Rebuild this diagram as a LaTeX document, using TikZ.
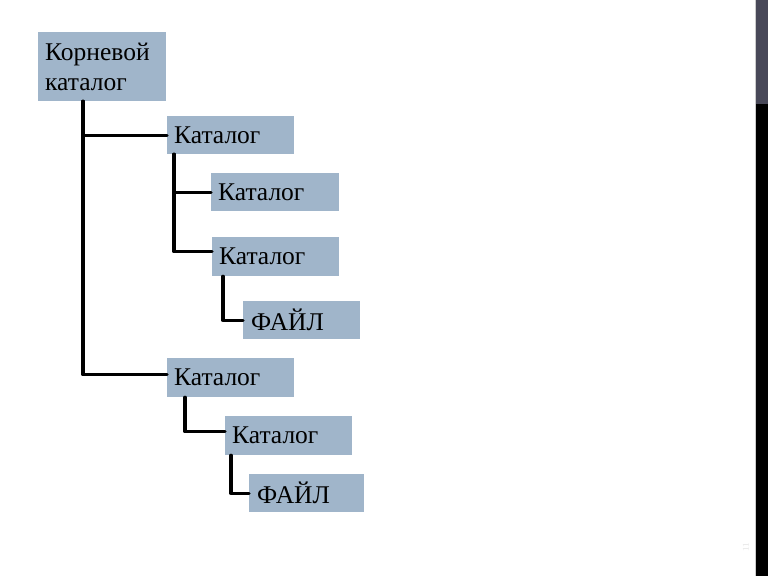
\documentclass[tikz,border=0pt]{standalone}
\usepackage{fontspec}
\setmainfont{Liberation Serif}
\definecolor{boxblue}{RGB}{160,181,202}
\definecolor{bartop}{RGB}{72,72,88}
\begin{document}
\begin{tikzpicture}[x=1pt,y=-1pt,
  box/.style={fill=boxblue, anchor=north west, inner xsep=7pt, inner ysep=0pt,
    align=left, font=\fontsize{25.5}{30}\selectfont},
  conn/.style={draw=black, line width=3.4pt, line join=round, line cap=round}]
\useasboundingbox[fill=white] (0,0) rectangle (768,576);
% right bar
\fill[bartop] (756,0) rectangle (768,104);
\fill[black] (756,104) rectangle (768,576);
\draw[gray!40, line width=0.8pt] (755.5,0) -- (755.5,576);
\node[text=gray!20, font=\fontsize{9}{9}\selectfont, rotate=90] (pg) at (746,547) {11};
% boxes
\node[box, minimum width=128pt, minimum height=69pt, text width=114pt] (root) at (38,32) {Корневой\\каталог};
\node[box, minimum width=127pt, minimum height=38pt, text width=113pt] (b2) at (167,116) {Каталог};
\node[box, minimum width=128pt, minimum height=38pt, text width=114pt] (b3) at (211,173) {Каталог};
\node[box, minimum width=127pt, minimum height=39pt, text width=113pt] (b4) at (212,237) {Каталог};
\node[box, minimum width=115pt, minimum height=38pt, text width=101pt, inner xsep=8pt] (b5) at (243,301) {ФАЙЛ};
\node[box, minimum width=127pt, minimum height=39pt, text width=113pt] (b6) at (167,358) {Каталог};
\node[box, minimum width=127pt, minimum height=39pt, text width=113pt] (b7) at (225,416) {Каталог};
\node[box, minimum width=115pt, minimum height=38pt, text width=99pt, inner xsep=8pt] (b8) at (249,474) {ФАЙЛ};
% connectors
\coordinate (r0) at ([xshift=45pt]root.south west);
\draw[conn] (r0) |- ([yshift=0pt]b2.west);
\draw[conn] (r0) |- ([yshift=3pt]b6.west);
\coordinate (c2) at ([xshift=7pt]b2.south west);
\draw[conn] (c2) |- (b3.west);
\draw[conn] (c2) |- ([yshift=5pt]b4.west);
\coordinate (c4) at ([xshift=11pt]b4.south west);
\draw[conn] (c4) |- (b5.west);
\coordinate (c6) at ([xshift=18pt]b6.south west);
\draw[conn] (c6) |- ([yshift=4pt]b7.west);
\coordinate (c7) at ([xshift=6pt]b7.south west);
\draw[conn] (c7) |- (b8.west);
\end{tikzpicture}
\end{document}
